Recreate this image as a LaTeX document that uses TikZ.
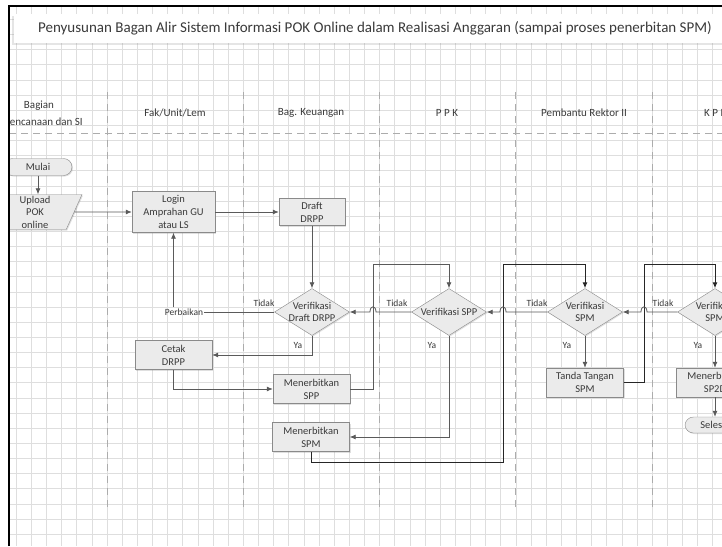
\documentclass[tikz,border=0pt]{standalone}
\usepackage{fontspec}
\setmainfont{Carlito}
\usepackage{xcolor}
\usepackage{tikz}
\usetikzlibrary{arrows.meta, shapes.geometric, shadows}
\definecolor{inkgray}{HTML}{3A3A3A}
\definecolor{wiregray}{HTML}{5A5A5A}
\definecolor{boxgray}{HTML}{EBEBEB}
\definecolor{edgegray}{HTML}{8A8A8A}
\definecolor{gridgray}{HTML}{DEDEDE}
\tikzset{every picture/.style={x=1pt,y=-1pt},
  gridline/.style={gridgray, line width=0.5pt},
  laneline/.style={gray!65, line width=0.8pt, dash pattern=on 7pt off 5pt},
  lanehead/.style={font=\fontsize{11}{17}\selectfont, text=inkgray, align=center},
  proc/.style={rectangle, draw=edgegray, fill=boxgray, minimum width=77pt, minimum height=29pt, inner sep=1pt, align=center, font=\fontsize{10.5}{13}\selectfont, text=inkgray, drop shadow={shadow xshift=1pt, shadow yshift=-1pt, opacity=0.25}},
  decision/.style={proc, diamond, aspect=1.6, inner sep=-8pt, minimum width=75pt, minimum height=47pt, font=\fontsize{10.5}{12}\selectfont},
  terminal/.style={proc, rounded corners=8.5pt, minimum width=68pt, minimum height=17pt},
  io/.style={proc, trapezium, trapezium left angle=64, trapezium right angle=116, trapezium stretches body, minimum width=94pt, minimum height=35pt, inner sep=0pt, font=\fontsize{10.5}{12.5}\selectfont},
  tag/.style={font=\fontsize{9.5}{11}\selectfont, text=inkgray, inner sep=1pt},
  arr/.style={draw=wiregray, line width=0.8pt, -{Latex[length=6pt,width=5pt]}},
  backarr/.style={arr, draw=black!85, line width=1pt}}

\begin{document}
\begin{tikzpicture}
\useasboundingbox (0,0) rectangle (722,546);
\fill[white] (0,0) rectangle (722,546);
\begin{scope}
\clip (9,6) rectangle (722,546);
% grid
\foreach \k in {-7,...,41} \draw[gridline] ({107+15.14*\k},0) -- ({107+15.14*\k},546);
\foreach \k in {-7,...,30} \draw[gridline] (0,{95+15.14*\k}) -- (722,{95+15.14*\k});

% title
\node[fill=white, minimum width=722pt, minimum height=29pt, drop shadow={shadow xshift=-2pt, shadow yshift=-2pt, opacity=0.2}, font=\fontsize{15}{17}\selectfont, text=inkgray] (title) at (375,28.5) {Penyusunan Bagan Alir Sistem Informasi POK Online dalam Realisasi Anggaran (sampai proses penerbitan SPM)};

% lanes
\foreach \k in {0,...,4} \draw[laneline] ({107+136.25*\k},92) -- ({107+136.25*\k},508);
\draw[laneline] (9,133) -- (722,133);
\node[lanehead] (hbagian) at (39,113) {Bagian\\Perencanaan dan SI};
\node[lanehead] (hfak) at (175,113) {Fak/Unit/Lem};
\node[lanehead] (hkeu) at (311,113) {Bag. Keuangan};
\node[lanehead] (hppk) at (447,113) {P P K};
\node[lanehead] (hpr) at (584,113) {Pembantu Rektor II};
\node[lanehead] (hkppn) at (720,113) {K P P N};

% steps
\node[terminal] (mulai) at (38,167) {Mulai};
\node[io] (upload) at (35,212) {Upload\\POK\\online};
\node[proc, minimum width=83pt, minimum height=41pt] (login) at (173.5,212) {Login\\Amprahan GU\\atau LS};
\node[proc, minimum width=66pt, minimum height=27pt] (draft) at (312,212) {Draft\\DRPP};
\node[decision] (vdrpp) at (312,312) {Verifikasi\\Draft DRPP};
\node[tag] (perbaikan) at (184,312) {Perbaikan};
\node[proc] (cetak) at (173.5,355) {Cetak\\DRPP};
\node[proc] (spp) at (311.5,389) {Menerbitkan\\SPP};
\node[decision] (vspp) at (449,312) {Verifikasi SPP};
\node[proc] (spm) at (311,437) {Menerbitkan\\SPM};
\node[decision] (vspm) at (585,312) {Verifikasi\\SPM};
\node[proc] (ttd) at (585,382.5) {Tanda Tangan\\SPM};
\node[decision] (vkppn) at (715,312) {Verifikasi\\SPM};
\node[proc] (sp2d) at (715,382.5) {Menerbitkan\\SP2D};
\node[terminal, minimum width=60pt, minimum height=16pt] (selesai) at (715,425) {Selesai};

% labels
\node[tag] (tidak1) at (264,303) {Tidak};
\node[tag] (tidak2) at (397,303) {Tidak};
\node[tag] (tidak3) at (537,303) {Tidak};
\node[tag] (tidak4) at (663,303) {Tidak};
\node[tag] (ya1) at (298,345) {Ya};
\node[tag] (ya2) at (432,345) {Ya};
\node[tag] (ya3) at (567,345) {Ya};
\node[tag] (ya4) at (698,345) {Ya};

% flow
\draw[arr] (mulai) -- (mulai |- upload.north);
\draw[arr] (upload) -- (login);
\draw[arr] (login) -- (draft);
\draw[arr] (draft) -- (vdrpp);
\draw[draw=wiregray, line width=0.8pt] (vdrpp.west) -- (perbaikan.east);
\draw[arr] (perbaikan.north -| login) -- (login);
\draw[arr] (vdrpp.south) |- (cetak.east);
\draw[arr] (cetak.south) |- (spp.west);
\draw[arr] (spp.east) -| (373,264) -| (vspp.north);
\draw[arr] (vspp.west) -- (376,312) .. controls (376,305) and (370,305) .. (370,312) -- (vdrpp.east);
\draw[arr] (vspp.south) |- (spm.east);
\draw[backarr] (spm.south) |- (503,462) -- (503,264) -| (vspm.north);
\draw[arr] (vspm.west) -- (506,312) .. controls (506,305) and (500,305) .. (500,312) -- (vspp.east);
\draw[arr] (vspm) -- (ttd);
\draw[backarr] (ttd.east) -| (644,264) -| (vkppn.north);
\draw[arr] (vkppn.west) -- (647,312) .. controls (647,305) and (641,305) .. (641,312) -- (vspm.east);
\draw[arr] (vkppn) -- (sp2d);
\draw[arr] (sp2d) -- (selesai);
\end{scope}
\draw[line width=2.5pt] (9,546) -- (9,6) -- (722,6);
\end{tikzpicture}
\end{document}
